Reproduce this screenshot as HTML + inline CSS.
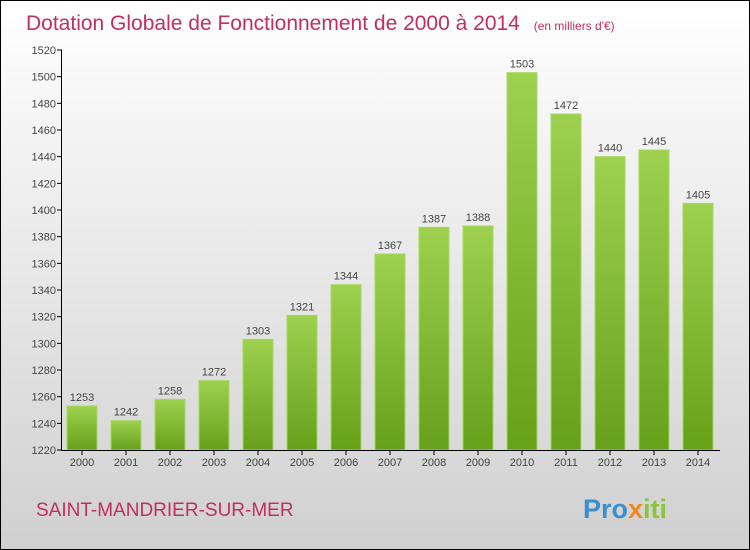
<!DOCTYPE html>
<html><head><meta charset="utf-8"><style>
body{margin:0}
#c{width:750px;height:550px;position:relative;box-sizing:border-box;border:1px solid #000;background:linear-gradient(#ffffff,#d0d0d0);font-family:"Liberation Sans",sans-serif;overflow:hidden}
</style></head><body>
<div id="c">
<svg width="750" height="550" id="s" style="position:absolute;left:-1px;top:-1px">
<defs><linearGradient id="g" x1="0" y1="0" x2="0" y2="1"><stop offset="0" stop-color="#9dd14f"/><stop offset="1" stop-color="#66a11a"/></linearGradient></defs>
<text x="26" y="30" font-size="21" fill="#c0305e">Dotation Globale de Fonctionnement de 2000 à 2014 <tspan font-size="12" dx="8">(en milliers d'€)</tspan></text>
<text x="36" y="516" font-size="19" fill="#c0305e">SAINT-MANDRIER-SUR-MER</text>
<text x="583" y="518" font-size="27" font-weight="bold" fill="#3a8fd0">Pro<tspan fill="#f08a1c">x</tspan><tspan fill="#8cc43c">iti</tspan></text>
<g id="plot"></g>
</svg>
</div>
<script>
const years=["2000","2001","2002","2003","2004","2005","2006","2007","2008","2009","2010","2011","2012","2013","2014"];
const values=[1253,1242,1258,1272,1303,1321,1344,1367,1387,1388,1503,1472,1440,1445,1405];
const yTicks=[1220,1240,1260,1280,1300,1320,1340,1360,1380,1400,1420,1440,1460,1480,1500,1520];
const NS="http://www.w3.org/2000/svg";
const p=document.getElementById('plot');
const y=v=>450-(v-1220)*400/300;
const x=i=>82+44*i;
function el(t,a,parent){const e=document.createElementNS(NS,t);for(const k in a)e.setAttribute(k,a[k]);(parent||p).appendChild(e);return e;}
yTicks.forEach(v=>{
 const l=el('line',{x1:57,x2:62,y1:y(v),y2:y(v),stroke:'#000'});
 
 
 const t=el('text',{x:56,y:y(v)+4,'font-size':11,fill:'#444','text-anchor':'end'});
 t.textContent=v;
 
 
});
values.forEach((v,i)=>{
 const r=el('rect',{x:x(i)-15,y:y(v),width:30,height:450-y(v),fill:'url(#g)',stroke:'#a8d860','stroke-width':1});
 
 
 const t=el('text',{x:x(i),y:y(v)-5,'font-size':11,fill:'#444','text-anchor':'middle'});
 t.textContent=v;
 
 
 const tk=el('line',{x1:x(i),x2:x(i),y1:450,y2:455,stroke:'#000'});
 
 
 const xl=el('text',{x:x(i),y:466,'font-size':11,fill:'#444','text-anchor':'middle'});
 xl.textContent=years[i];
 
 
});
const ya=el('line',{x1:61.5,x2:61.5,y1:y(1520),y2:450,stroke:'#000'});


const xa=el('line',{x1:61,x2:720,y1:450.5,y2:450.5,stroke:'#000'});


</script>
</body></html>
